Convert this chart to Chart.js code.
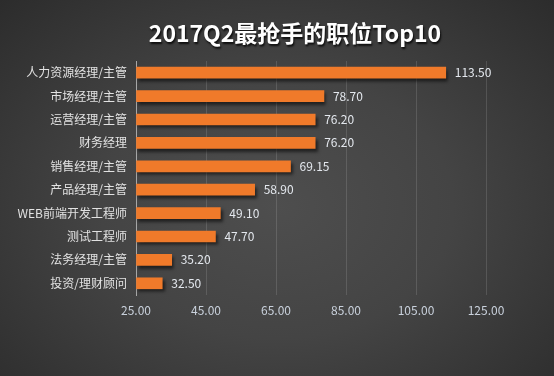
<!DOCTYPE html>
<html>
<head>
<meta charset="utf-8">
<script src="https://cdn.jsdelivr.net/npm/chart.js@4"></script>
<style>
  html, body { margin: 0; padding: 0; }
  #wrap {
    width: 554px;
    height: 376px;
    background: radial-gradient(ellipse at 50% 55%, #4e4e4e 0%, #444 45%, #2c2c2c 100%);
  }
</style>
</head>
<body>
<div id="wrap"><canvas id="chart" width="554" height="376"></canvas></div>
<script>
const TITLE = "2017Q2最抢手的职位Top10";
const categories = [
  "人力资源经理/主管", "市场经理/主管", "运营经理/主管", "财务经理", "销售经理/主管",
  "产品经理/主管", "WEB前端开发工程师", "测试工程师", "法务经理/主管", "投资/理财顾问",
];
const values = [113.50, 78.70, 76.20, 76.20, 69.15, 58.90, 49.10, 47.70, 35.20, 32.50];
const X_MIN = 25;
const X_MAX = 125;
const X_STEP = 20;

const FONT = "'Noto Sans CJK SC', 'Noto Sans', sans-serif";
const BAR_COLOR = "#f07a2a";

// title drawn by hand so it can sit off-centre like the original
const titlePlugin = {
  id: "titleText",
  afterDraw(chart) {
    const ctx = chart.ctx;
    ctx.save();
    ctx.font = "bold 23px " + FONT;
    ctx.textAlign = "center";
    ctx.textBaseline = "middle";
    ctx.shadowColor = "rgba(0, 0, 0, 0.8)";
    ctx.shadowOffsetX = 1;
    ctx.shadowOffsetY = 2;
    ctx.shadowBlur = 2;
    ctx.fillStyle = "#ffffff";
    ctx.fillText(TITLE, 295, 33);
    ctx.restore();
  },
};

// drop shadow under the bars, value text after them
const barExtras = {
  id: "barExtras",
  beforeDatasetsDraw(chart) {
    const ctx = chart.ctx;
    ctx.save();
    ctx.shadowColor = "rgba(0, 0, 0, 0.55)";
    ctx.shadowOffsetX = 2;
    ctx.shadowOffsetY = 3;
    ctx.shadowBlur = 3;
  },
  afterDatasetsDraw(chart) {
    const ctx = chart.ctx;
    ctx.restore();
    ctx.save();
    ctx.font = "12px " + FONT;
    ctx.fillStyle = "#e4e8ee";
    ctx.textAlign = "left";
    ctx.textBaseline = "middle";
    const meta = chart.getDatasetMeta(0);
    meta.data.forEach((bar, i) => {
      ctx.fillText(values[i].toFixed(2), bar.x + 9, bar.y);
    });
    ctx.restore();
  },
};

new Chart(document.getElementById("chart"), {
  type: "bar",
  data: {
    labels: categories,
    datasets: [
      {
        data: values,
        backgroundColor: (context) => {
          const area = context.chart.chartArea;
          const el = context.element;
          if (!area || !el || el.y === undefined) return BAR_COLOR;
          const g = context.chart.ctx.createLinearGradient(0, el.y - 6, 0, el.y + 6);
          g.addColorStop(0, "#f78b3d");
          g.addColorStop(1, "#e86c1c");
          return g;
        },
        borderWidth: 0,
        barThickness: 11,
        base: X_MIN,
      },
    ],
  },
  options: {
    indexAxis: "y",
    responsive: false,
    animation: false,
    layout: { padding: { top: 61, right: 68, bottom: 56, left: 0 } },
    scales: {
      x: {
        type: "linear",
        min: X_MIN,
        max: X_MAX,
        ticks: {
          stepSize: X_STEP,
          padding: 8,
          color: "#c9d1dc",
          font: { size: 12, family: FONT },
          callback: (v) => Number(v).toFixed(2),
        },
        grid: { color: "rgba(255, 255, 255, 0.13)", drawTicks: false },
        border: { display: false },
        afterFit: (scale) => { scale.height = 25; },
      },
      y: {
        ticks: {
          padding: 9,
          color: "#e2e2e2",
          font: { size: 12, family: FONT },
        },
        grid: { display: false, drawTicks: false },
        border: { display: true, color: "#a8a8a8", width: 1 },
        afterFit: (scale) => { scale.width = 136; },
      },
    },
    plugins: {
      legend: { display: false },
      tooltip: { enabled: false },
    },
  },
  plugins: [barExtras, titlePlugin],
});
</script>
</body>
</html>
